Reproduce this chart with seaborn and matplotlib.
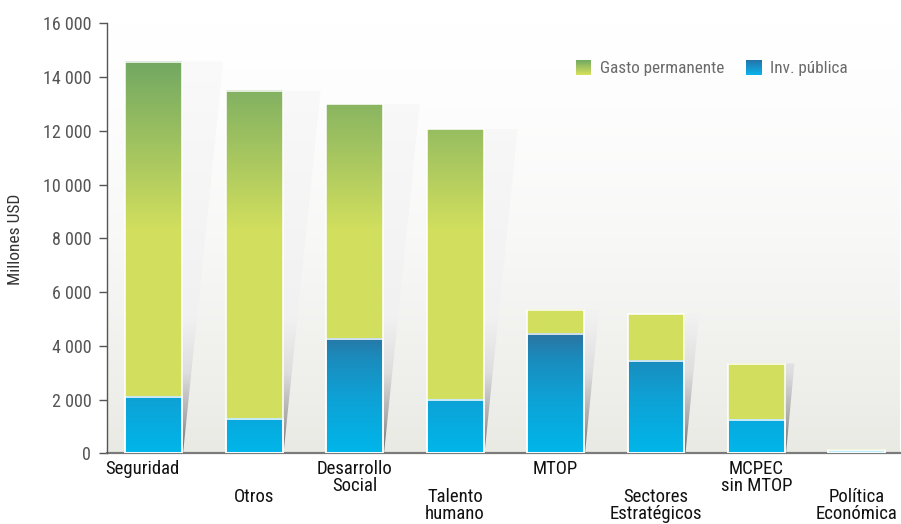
import numpy as np
import pandas as pd
import matplotlib
matplotlib.use("Agg")
import matplotlib.pyplot as plt
import seaborn as sns
from matplotlib.colors import to_rgb
from matplotlib.patches import Polygon, Rectangle
from matplotlib.legend_handler import HandlerBase
from matplotlib import transforms

# ---------------- data ----------------
categories = ["Seguridad", "Otros", "Desarrollo\nSocial", "Talento\nhumano", "MTOP",
              "Sectores\nEstratégicos", "MCPEC\nsin MTOP", "Política\nEconómica"]
inv_publica = [2100, 1280, 4250, 1980, 4450, 3440, 1240, 80]
gasto_permanente = [12470, 12210, 8740, 10080, 900, 1730, 2100, 50]
y_ticks = [0, 2000, 4000, 6000, 8000, 10000, 12000, 14000, 16000]
series_labels = ["Gasto permanente", "Inv. pública"]

df = pd.DataFrame({"cat": categories, "inv": inv_publica, "gasto": gasto_permanente})
df["total"] = df["inv"] + df["gasto"]

# ---------------- colour helpers ----------------
def make_fn(stops):
    ys = np.array([s[0] for s in stops], float)
    cs = np.array([to_rgb(s[1]) for s in stops])
    def fn(y):
        y = np.atleast_1d(np.asarray(y, float))
        return np.stack([np.interp(y, ys, cs[:, k]) for k in range(3)], axis=-1)
    return fn

green_fn = make_fn([(0, "#d2df5e"), (8300, "#d2df5e"), (11300, "#a3c460"), (14700, "#70a762")])
blue_fn = make_fn([(0, "#00b6ea"), (2000, "#0ea2d6"), (3500, "#1a8cbd"), (4500, "#2c729f")])
shadow_fn = make_fn([(0, "#6a6a6a"), (1200, "#a8a8a8"), (3000, "#dedede"),
                     (5000, "#f1f1f1"), (16000, "#fbfbfb")])
bg_fn = make_fn([(0, "#eaeae5"), (0.25, "#f1f1ee"), (0.5, "#f8f8f7"), (0.8, "#fdfdfd"), (1, "#ffffff")])

W, H, DPI = 901, 524, 100
sns.set_theme(style="white")
FONT = ["Roboto Condensed", "Archivo Narrow", "DejaVu Sans"]
plt.rcParams["font.family"] = FONT

fig = plt.figure(figsize=(W / DPI, H / DPI), dpi=DPI)
y0_px, y1_px = 453.3, 23.3
ax_w_px = 900 - 107
ax_h_px = y0_px - y1_px
ax = fig.add_axes([107 / W, (H - y0_px) / H, ax_w_px / W, ax_h_px / H])

XMIN, XMAX = -0.463, 7.428
YMAX = 16000

BAR_W = 0.567
sns.barplot(data=df, x="cat", y="total", order=categories, width=BAR_W, color="#d2df5e",
            saturation=1, errorbar=None, ax=ax, zorder=3)
sns.barplot(data=df, x="cat", y="inv", order=categories, width=BAR_W, color="#00b6ea",
            saturation=1, errorbar=None, ax=ax, zorder=3.1)

patches = list(ax.patches)
tot_rects = patches[:len(categories)]
inv_rects = patches[len(categories):]

def grad_image(x0, x1, ya, yb, fn, zorder, n=300):
    ys = np.linspace(ya, yb, n)
    arr = fn(ys)[:, None, :]
    return ax.imshow(arr, extent=[x0, x1, ya, yb], origin="lower", aspect="auto",
                     interpolation="bilinear", zorder=zorder)

# shadow wedge: constant angle (width = 0.105 * height in pixels)
px_per_x = ax_w_px / (XMAX - XMIN)
px_per_y = ax_h_px / YMAX
for tr, ir in zip(tot_rects, inv_rects):
    x0 = tr.get_x()
    x1 = x0 + tr.get_width()
    top = tr.get_height()
    inv = ir.get_height()
    grad_image(x0, x1, inv, top, green_fn, 2.5)
    grad_image(x0, x1, 0, inv, blue_fn, 2.6)
    for r in (tr, ir):
        r.set_facecolor("none")
        r.set_edgecolor("white")
        r.set_linewidth(1.1)
    sw = 0.105 * top * px_per_y / px_per_x
    verts = [(x1, 0), (x1, top), (x1 + sw, top), (x1 + 0.01, 0)]
    poly = Polygon(verts, closed=True, transform=ax.transData)
    im = grad_image(x1, x1 + sw, 0, top, shadow_fn, 1.5)
    im.set_clip_path(poly)

# background gradient
bys = np.linspace(0, 1, 300)
ax.imshow(bg_fn(bys)[:, None, :], extent=[0, 1, 0, 1], transform=ax.transAxes,
          origin="lower", aspect="auto", interpolation="bilinear", zorder=0)

ax.set_xlim(XMIN, XMAX)
ax.set_ylim(0, YMAX)
ax.set_xlabel("")
ax.set_ylabel("")
ax.set_xticks(range(len(categories)))
ax.set_xticklabels([])
ax.tick_params(axis="x", length=0)
ax.set_yticks(y_ticks)
ax.set_yticklabels([f"{v:,}".replace(",", " ") for v in y_ticks])
ax.tick_params(axis="y", left=True, length=5.8, width=1, color="#555555",
               labelcolor="#555555", labelsize=13, pad=5.5, direction="out")
for s in ("top", "right"):
    ax.spines[s].set_visible(False)
ax.spines["left"].set_color("#555555")
ax.spines["left"].set_linewidth(1)
ax.spines["bottom"].set_color("#7a7a7a")
ax.spines["bottom"].set_linewidth(1.6)
ax.spines["left"].set_zorder(5)
ax.spines["bottom"].set_zorder(2)

# staggered category labels
for i, cat in enumerate(categories):
    dy = -7 if i % 2 == 0 else -35
    if i == len(categories) - 1:
        dy = -35
    dx = -11 if i == 0 else 0
    tr = transforms.offset_copy(ax.get_xaxis_transform(), fig=fig, x=dx, y=dy, units="dots")
    ax.text(i, 0, cat, transform=tr, ha="center", va="top", fontsize=13.5,
            color="#111111", linespacing=0.92)

fig.text(16 / W, 1 - 239 / H, "Millones USD", rotation=90, ha="center", va="center",
         fontsize=12.5, color="#333333")

# legend with gradient swatches
class GradHandler(HandlerBase):
    def __init__(self, bottom, top):
        super().__init__()
        self.bottom = np.array(to_rgb(bottom))
        self.top = np.array(to_rgb(top))

    def create_artists(self, legend, orig_handle, xdescent, ydescent, width, height, fontsize, trans):
        n = 24
        side = min(width, height)
        arts = []
        for k in range(n):
            f = (k + 0.5) / n
            c = self.bottom + (self.top - self.bottom) * f
            r = Rectangle((-xdescent, -ydescent + (height - side) / 2 + side * k / n), side,
                          side / n * 1.05, facecolor=c, edgecolor="none", transform=trans)
            arts.append(r)
        return arts

h1 = Rectangle((0, 0), 1, 1)
h2 = Rectangle((0, 0), 1, 1)
leg = fig.legend([h1, h2], series_labels, loc="center left",
                 bbox_to_anchor=(576 / W, 1 - 68 / H), ncol=2, frameon=False,
                 handler_map={h1: GradHandler("#d6e15c", "#70a762"),
                              h2: GradHandler("#0ab3ea", "#2472a8")},
                 handlelength=1.0, handleheight=1.0, handletextpad=0.4,
                 columnspacing=1.3, borderpad=0, borderaxespad=0, fontsize=12.3)
for t in leg.get_texts():
    t.set_color("#6a6a6a")

fig.savefig("out.png", dpi=DPI)
